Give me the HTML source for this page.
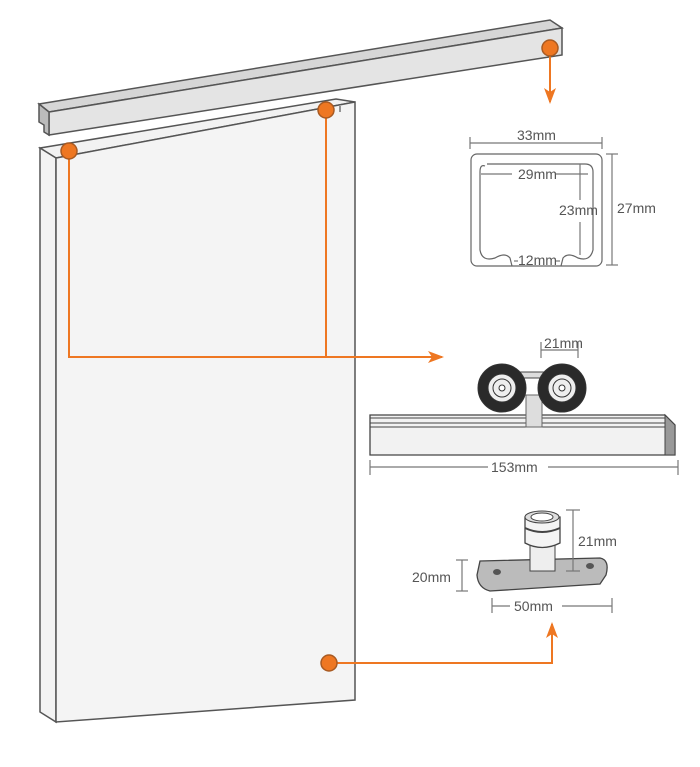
<!DOCTYPE html>
<html><head><meta charset="utf-8"><style>
html,body{margin:0;padding:0;background:#fff;}
svg{display:block;}
text{font-family:"Liberation Sans",sans-serif;fill:#555;font-size:14px;}
</style></head><body>
<svg width="700" height="767" viewBox="0 0 700 767" xmlns="http://www.w3.org/2000/svg">
<defs>
<marker id="ah" markerWidth="16" markerHeight="12" refX="14" refY="6" orient="auto" markerUnits="userSpaceOnUse"><path d="M0,0 L16,6 L0,12 L4,6 Z" fill="#ee7722"/></marker>
</defs>
<!-- rail -->
<polygon points="39,104 550,20 562,28 49,112" fill="#d6d6d6" stroke="#555" stroke-width="1.5"/>
<polygon points="49,112 562,28 562,55 49,135" fill="#e4e4e4" stroke="#555" stroke-width="1.5"/>
<polygon points="39,104 49,112 49,135 44,132 44,125 39,122" fill="#bbb" stroke="#555" stroke-width="1.5"/>
<!-- door -->
<polygon points="40,148 336,99 355,102 56,158" fill="#f2f2f2" stroke="#555" stroke-width="1.5"/>
<polygon points="40,148 56,158 56,722 40,712" fill="#f3f3f3" stroke="#555" stroke-width="1.5"/>
<polygon points="56,158 355,102 355,700 56,722" fill="#f4f4f4" stroke="#555" stroke-width="1.5"/>
<line x1="340" y1="106" x2="340" y2="112" stroke="#555" stroke-width="1.2"/>
<!-- orange connectors -->
<g stroke="#ee7722" stroke-width="2" fill="none">
<line x1="550" y1="56" x2="550" y2="102" marker-end="url(#ah)"/>
<polyline points="69,151 69,357 442,357" marker-end="url(#ah)"/>
<line x1="326" y1="110" x2="326" y2="357"/>
<polyline points="329,663 552,663 552,624" marker-end="url(#ah)"/>
</g>
<g fill="#ee7722" stroke="#a85a22" stroke-width="1.5">
<circle cx="550" cy="48" r="8"/><circle cx="326" cy="110" r="8"/><circle cx="69" cy="151" r="8"/><circle cx="329" cy="663" r="8"/>
</g>
<!-- cross section -->
<g stroke="#777" stroke-width="1.2" fill="none">
<line x1="470" y1="143" x2="602" y2="143"/><line x1="470" y1="137" x2="470" y2="149"/><line x1="602" y1="137" x2="602" y2="149"/>
<rect x="471" y="154" width="131" height="112" rx="6" fill="#fff" stroke="#666"/>
<path d="M485,166 Q480,164 480,172 L480,250 Q482,262 495,258 Q505,252 510,258 L512,266 M561,266 L563,258 Q568,252 578,258 Q590,262 593,250 L593,172 Q593,164 585,164 L487,164" stroke="#666"/>
<line x1="481" y1="174" x2="512" y2="174"/><line x1="555" y1="174" x2="588" y2="174"/>
<line x1="580" y1="164" x2="580" y2="200"/><line x1="580" y1="222" x2="580" y2="255"/>
<line x1="514" y1="261" x2="518" y2="261"/><line x1="555" y1="261" x2="560" y2="261"/>
<line x1="612" y1="154" x2="612" y2="265"/><line x1="606" y1="154" x2="618" y2="154"/><line x1="606" y1="265" x2="618" y2="265"/>
</g>
<text x="517" y="140">33mm</text>
<text x="518" y="179">29mm</text>
<text x="559" y="215">23mm</text>
<text x="617" y="213">27mm</text>
<text x="518" y="265">12mm</text>
<!-- trolley -->
<polygon points="370,415 665,415 675,425 675,455 370,455" fill="#f2f2f2" stroke="#444" stroke-width="1.3"/>
<line x1="370" y1="418" x2="665" y2="418" stroke="#444"/><line x1="370" y1="423" x2="670" y2="423" stroke="#444"/>
<line x1="370" y1="427" x2="665" y2="427" stroke="#444"/>
<polygon points="665,415 675,425 675,455 665,455 665,427" fill="#999" stroke="#444"/>
<rect x="526" y="395" width="16" height="32" fill="#ddd" stroke="#666"/>
<rect x="500" y="372" width="60" height="6" fill="#ddd" stroke="#444"/>
<g stroke="#333">
<circle cx="502" cy="388" r="24" fill="#2a2a2a"/><circle cx="502" cy="388" r="14" fill="#eee"/><circle cx="502" cy="388" r="9" fill="none"/><circle cx="502" cy="388" r="3" fill="#fff"/>
<circle cx="562" cy="388" r="24" fill="#2a2a2a"/><circle cx="562" cy="388" r="14" fill="#eee"/><circle cx="562" cy="388" r="9" fill="none"/><circle cx="562" cy="388" r="3" fill="#fff"/>
</g>
<g stroke="#777" stroke-width="1.2">
<line x1="541" y1="342" x2="541" y2="358"/><line x1="578" y1="342" x2="578" y2="358"/><line x1="541" y1="350" x2="578" y2="350"/>
<line x1="370" y1="460" x2="370" y2="475"/><line x1="678" y1="460" x2="678" y2="475"/>
<line x1="370" y1="467" x2="488" y2="467"/><line x1="548" y1="467" x2="678" y2="467"/>
</g>
<text x="544" y="348" font-size="12">21mm</text>
<text x="491" y="472">153mm</text>
<!-- bottom guide -->
<path d="M480,561 L600,558 Q610,560 606,575 L600,584 L490,591 Q478,588 477,575 Z" fill="#bbb" stroke="#444" stroke-width="1.3"/>
<ellipse cx="497" cy="572" rx="4" ry="3" fill="#555"/><ellipse cx="590" cy="566" rx="4" ry="3" fill="#555"/>
<rect x="530" y="543" width="25" height="28" fill="#eee" stroke="#444"/>
<path d="M525,517 L525,543 Q542,552 560,543 L560,517 Z" fill="#f4f4f4" stroke="#444" stroke-width="1.3"/>
<ellipse cx="542" cy="517" rx="17" ry="6" fill="#ddd" stroke="#444"/><ellipse cx="542" cy="517" rx="11" ry="4" fill="#fff" stroke="#444"/>
<path d="M525,528 Q542,536 560,528" fill="none" stroke="#444" stroke-width="2"/>
<g stroke="#777" stroke-width="1.2">
<line x1="573" y1="510" x2="573" y2="571"/><line x1="566" y1="510" x2="580" y2="510"/><line x1="566" y1="571" x2="580" y2="571"/>
<line x1="462" y1="560" x2="462" y2="591"/><line x1="456" y1="560" x2="468" y2="560"/><line x1="456" y1="591" x2="468" y2="591"/>
<line x1="492" y1="598" x2="492" y2="613"/><line x1="612" y1="598" x2="612" y2="613"/>
<line x1="492" y1="606" x2="510" y2="606"/><line x1="562" y1="606" x2="612" y2="606"/>
</g>
<text x="578" y="546">21mm</text>
<text x="412" y="582">20mm</text>
<text x="514" y="611">50mm</text>
</svg>
</body></html>
